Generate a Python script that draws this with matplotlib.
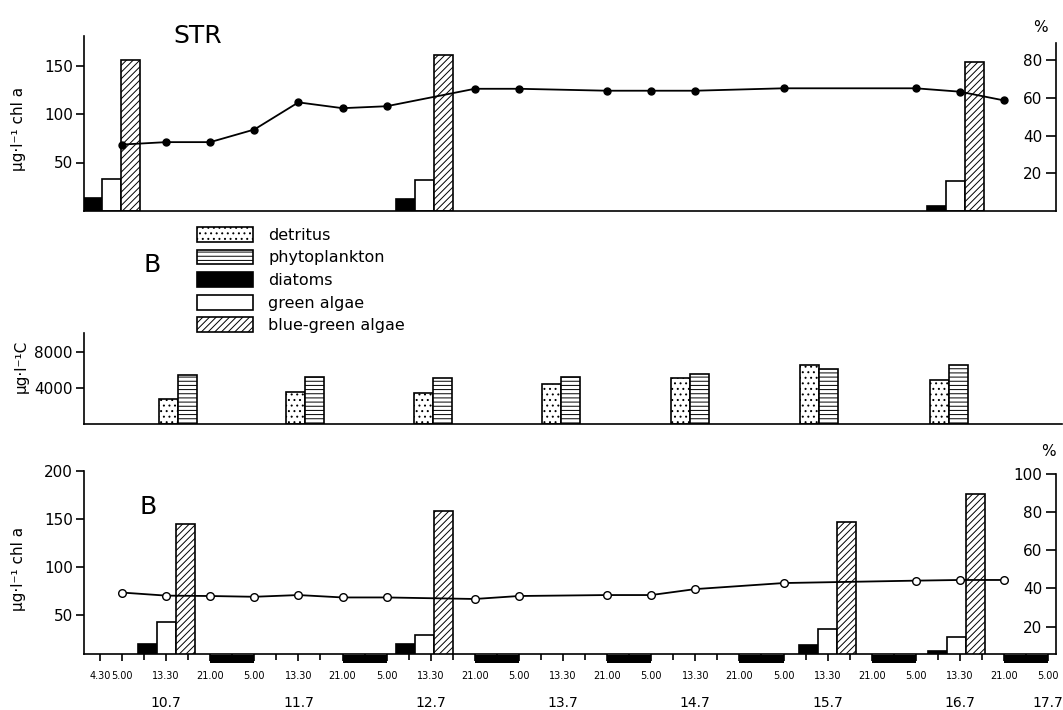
import matplotlib
matplotlib.use('Agg')
import matplotlib.pyplot as plt
from matplotlib.patches import Patch
import numpy as np

plt.rcParams['font.family'] = ['DejaVu Sans']
plt.rcParams['hatch.linewidth'] = 0.7

# ---------------- data ----------------
# x = index of sampling time (5.00 on 10.7 = 0; then 13.30, 21.00, 5.00, ...)
tick_labels = ["4.30", "5.00", "13.30", "21.00", "5.00", "13.30", "21.00", "5.00",
               "13.30", "21.00", "5.00", "13.30", "21.00", "5.00", "13.30", "21.00",
               "5.00", "13.30", "21.00", "5.00", "13.30", "21.00", "5.00"]
tick_pos = [-0.5] + list(range(22))
date_labels = ["10.7", "11.7", "12.7", "13.7", "14.7", "15.7", "16.7", "17.7"]
date_pos = [1, 4, 7, 10, 13, 16, 19, 21]
night_start = [2, 5, 8, 11, 14, 17, 20]          # 21.00 -> 5.00

line_x = [0, 1, 2, 3, 4, 5, 6, 8, 9, 11, 12, 13, 15, 18, 19, 20]
str_chl = [68.5, 71, 71, 84, 112, 106, 108, 126, 126, 124, 124, 124, 126.5, 126.5, 123, 114]
b_chl = [73.4, 70.2, 69.8, 69, 70.8, 68.3, 68.3, 66.7, 69.8, 70.8, 70.8, 77, 83.3, 85.8, 86.5, 86.5]

str_grp = [-0.23, 6.85, 18.9]
str_diatoms = [6.9, 6.5, 2.7]
str_green = [17.0, 16.6, 16.1]
str_bluegreen = [80.0, 82.8, 79.0]

b_grp = [1.02, 6.85, 16.0, 18.93]
b_diatoms = [11.0, 11.0, 10.5, 7.5]
b_green = [22.7, 15.9, 19.0, 14.6]
b_bluegreen = [73.7, 80.4, 75.0, 89.6]

c_pos = [1.26, 4.15, 7.05, 9.95, 12.88, 15.8, 18.75]
detritus = [2780, 3590, 3480, 4440, 5110, 6550, 4880]
phyto = [5440, 5250, 5140, 5220, 5550, 6100, 6550]

# ---------------- layout helpers ----------------
W, H, DPI = 1063, 710, 100
fig = plt.figure(figsize=(W / DPI, H / DPI), dpi=DPI)


def rect(l, t, r, b):
    return [l / W, 1 - b / H, (r - l) / W, (b - t) / H]


X0, DX = 122.0, 44.1


def xl(px):
    return (px - X0) / DX


bw = 19 / DX
LW = 1.2
FS = 11


def group_bars(ax, centers, dia, gre, blu):
    c = np.array(centers)
    ax.bar(c - bw, dia, bw, facecolor='black', edgecolor='black', lw=LW)
    ax.bar(c, gre, bw, facecolor='white', edgecolor='black', lw=LW)
    ax.bar(c + bw, blu, bw, facecolor='white', edgecolor='black', hatch='/////', lw=LW)


def style_right(ax2, bound_top):
    for s in ('top', 'left', 'bottom'):
        ax2.spines[s].set_visible(False)
    ax2.spines['right'].set_linewidth(LW)
    ax2.spines['right'].set_bounds(ax2.get_ylim()[0], bound_top)
    ax2.tick_params(axis='y', direction='in', length=7, width=LW, pad=-10, labelsize=FS)
    for t in ax2.get_yticklabels():
        t.set_horizontalalignment('right')


def style_left(ax):
    ax.spines['top'].set_visible(False)
    ax.spines['right'].set_visible(False)
    ax.spines['left'].set_linewidth(LW)
    ax.spines['bottom'].set_linewidth(LW)
    ax.tick_params(axis='y', direction='out', length=6, width=LW, labelsize=FS, pad=2)


# ---------------- top panel (STR) ----------------
axT = fig.add_axes(rect(84, 36, 1056, 211))
axT2 = axT.twinx()
axT.set_zorder(axT2.get_zorder() + 1)
axT.patch.set_visible(False)
axT.set_xlim(xl(84), xl(1056))
axT.set_ylim(0, 175 / 0.97)
axT2.set_ylim(0, 175 / 1.885)
group_bars(axT2, str_grp, str_diatoms, str_green, str_bluegreen)
axT.plot(line_x, str_chl, '-o', color='black', lw=1.3, ms=5, mfc='black', mec='black')
axT.set_xticks([])
axT.set_yticks([50, 100, 150])
axT2.set_yticks([20, 40, 60, 80])
style_left(axT)
style_right(axT2, 168 / 1.885)
axT.text(xl(198), 1.0, 'STR', transform=axT.get_xaxis_transform(), ha='center', va='center',
         fontsize=18)
fig.text(1040 / W, 1 - 27 / H, '%', ha='center', va='center', fontsize=FS)
fig.text(19 / W, 1 - 129 / H, 'µg·l⁻¹ chl a', rotation=90, ha='center', va='center', fontsize=FS)

# ---------------- middle panel (carbon) ----------------
axM = fig.add_axes(rect(84, 333, 1062, 424))
axM.set_xlim(xl(84), xl(1062))
axM.set_ylim(0, 91 * 111)
cp = np.array(c_pos)
axM.bar(cp - bw / 2, detritus, bw, facecolor='white', edgecolor='black', hatch='...', lw=LW)
axM.bar(cp + bw / 2, phyto, bw, facecolor='white', edgecolor='black', hatch='----', lw=LW)
axM.set_xticks([])
axM.set_yticks([4000, 8000])
style_left(axM)
fig.text(21 / W, 1 - 366 / H, 'µg·l⁻¹C', rotation=90, ha='center', va='center', fontsize=FS)

# ---------------- bottom panel (B) ----------------
axB = fig.add_axes(rect(84, 471, 1056, 654))
axB2 = axB.twinx()
axB.set_zorder(axB2.get_zorder() + 1)
axB.patch.set_visible(False)
axB.set_xlim(xl(84), xl(1056))
axB.set_ylim(9.4, 200)
axB2.set_ylim(5.75, 101.4)
group_bars(axB2, b_grp, b_diatoms, b_green, b_bluegreen)
axB.plot(line_x, b_chl, '-o', color='black', lw=1.3, ms=5.5, mfc='white', mec='black', mew=1)
axB.set_yticks([50, 100, 150, 200])
axB2.set_yticks([20, 40, 60, 80, 100])
style_left(axB)
style_right(axB2, 100)
axB.set_xticks(tick_pos)
axB.set_xticklabels(tick_labels, fontsize=7)
axB.set_xticks([i + 0.5 for i in range(21)], minor=True)
axB.tick_params(axis='x', which='major', direction='out', length=5, width=LW, pad=7)
axB.tick_params(axis='x', which='minor', direction='out', length=4, width=LW)
axB.broken_barh([(s, 1) for s in night_start], (-9 / 183, 8 / 183),
                transform=axB.get_xaxis_transform(), facecolor='black', clip_on=False)
for p, d in zip(date_pos, date_labels):
    axB.text(p, -49 / 183, d, transform=axB.get_xaxis_transform(), ha='center', va='center',
             fontsize=10)
axB.text(xl(148), 1 - (507 - 471) / 183, 'B', transform=axB.get_xaxis_transform(),
         ha='center', va='center', fontsize=18)
fig.text(1048 / W, 1 - 452 / H, '%', ha='center', va='center', fontsize=FS)
fig.text(19 / W, 1 - 569 / H, 'µg·l⁻¹ chl a', rotation=90, ha='center', va='center', fontsize=FS)

# ---------------- legend ----------------
handles = [Patch(facecolor='white', edgecolor='black', hatch='...', lw=LW),
           Patch(facecolor='white', edgecolor='black', hatch='----', lw=LW),
           Patch(facecolor='black', edgecolor='black', lw=LW),
           Patch(facecolor='white', edgecolor='black', lw=LW),
           Patch(facecolor='white', edgecolor='black', hatch='/////', lw=LW)]
labels = ['detritus', 'phytoplankton', 'diatoms', 'green algae', 'blue-green algae']
fig.legend(handles, labels, loc='upper left', bbox_to_anchor=(197 / W, 1 - 227 / H),
           frameon=False, fontsize=11.5, handlelength=3.5, handleheight=1.05,
           labelspacing=0.42, handletextpad=0.95, borderpad=0, borderaxespad=0)
fig.text(152 / W, 1 - 265 / H, 'B', ha='center', va='center', fontsize=18)

fig.savefig('out.png', dpi=DPI)
